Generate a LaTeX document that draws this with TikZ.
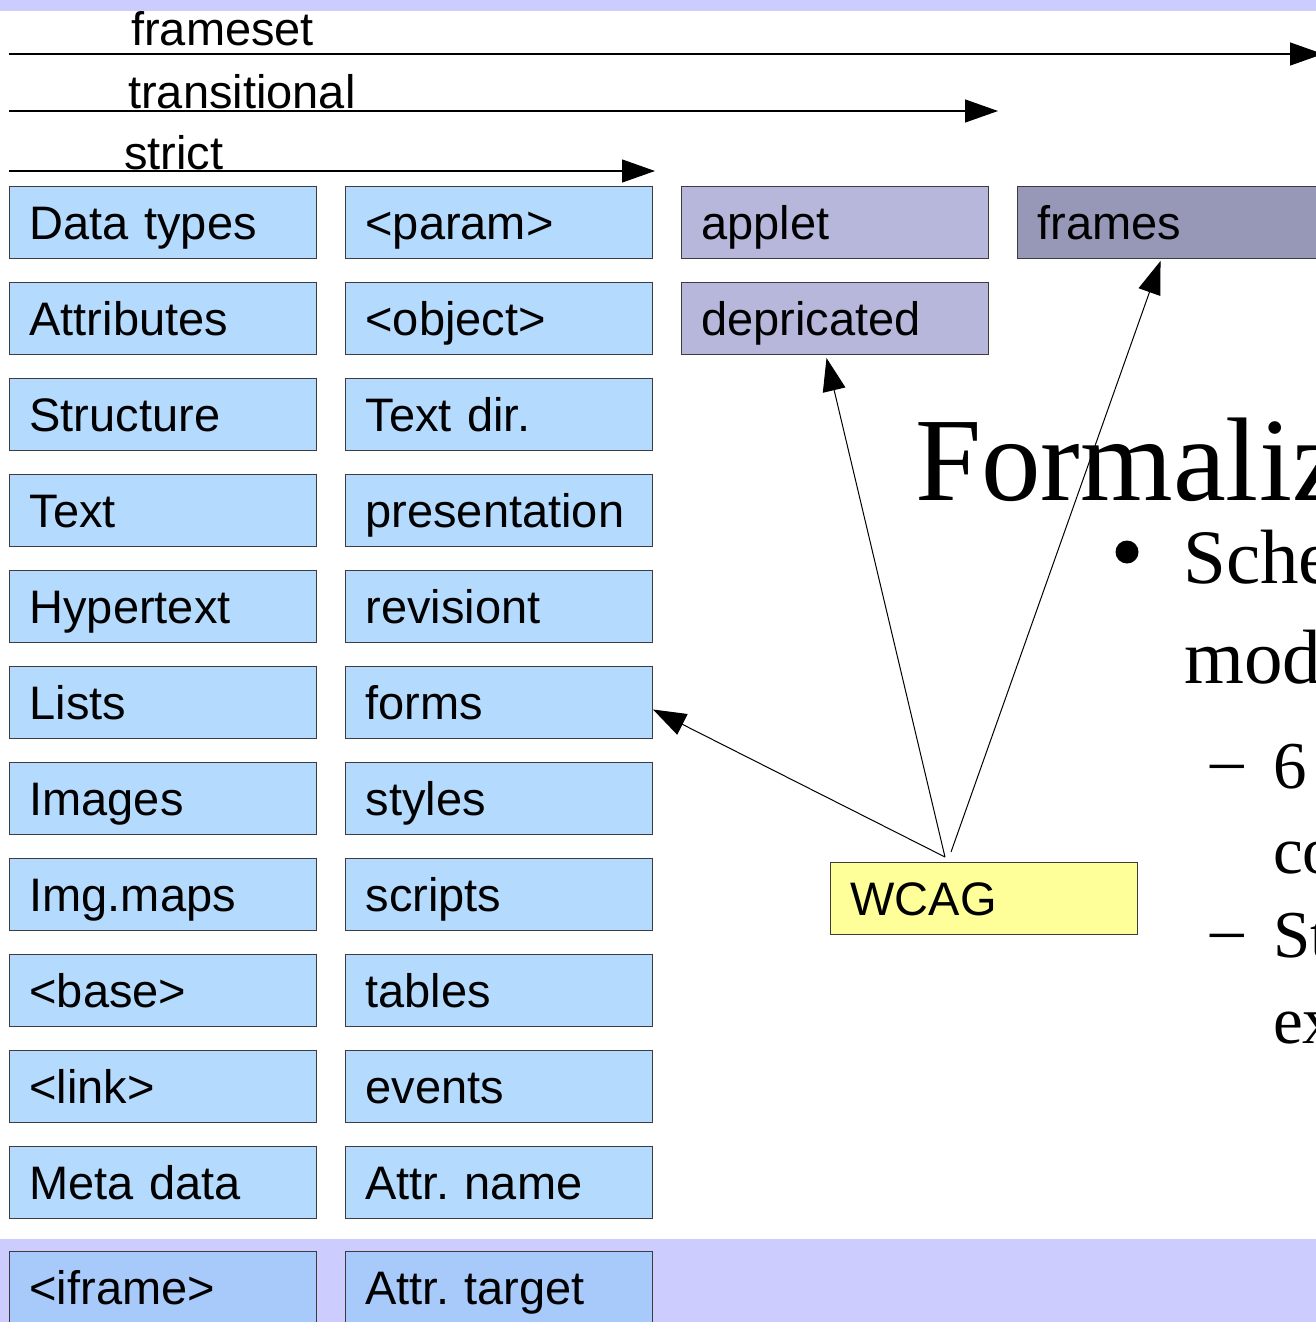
\documentclass[tikz,border=0pt]{standalone}
\usepackage{fontspec}
\newfontfamily\boxfont{Liberation Sans}
\newfontfamily\outlinefont{Liberation Serif}
\usetikzlibrary{arrows.meta,calc}

\definecolor{band}{HTML}{CCCCFF}
\definecolor{cellblue}{HTML}{B4DAFE}
\definecolor{cellband}{HTML}{A8CAFA}
\definecolor{oldcell}{HTML}{B7B7DB}
\definecolor{framecell}{HTML}{9797B7}
\definecolor{notecell}{HTML}{FFFF99}
\definecolor{cellline}{HTML}{3C3C3C}

\begin{document}
\frenchspacing
\begin{tikzpicture}[x=1pt,y=-1pt,
  cell/.style={draw=cellline, line width=1pt, fill=cellblue, anchor=north west,
    minimum width=307pt, minimum height=72pt, inner xsep=20pt, inner ysep=0pt,
    text width=267pt, align=left, text height=34pt, text depth=0pt,
    font=\boxfont\fontsize{47}{50}\selectfont},
  oldstyle/.style={cell, fill=oldcell},
  framestyle/.style={cell, fill=framecell},
  bandcell/.style={cell, fill=cellband},
  note/.style={cell, fill=notecell},
  lab/.style={anchor=base west, inner sep=0pt, font=\boxfont\fontsize{47}{50}\selectfont},
  level/.style={line width=1.3pt, -{Triangle[length=33pt,width=23pt]}},
  link/.style={line width=1pt, -{Triangle[length=33pt,width=23pt]}},
  title/.style={anchor=base west, inner sep=0pt, font=\outlinefont\fontsize{119}{124}\selectfont},
  bodytext/.style={anchor=base west, inner sep=0pt, font=\outlinefont\fontsize{77}{82}\selectfont},
  subtext/.style={anchor=base west, inner sep=0pt, font=\outlinefont\fontsize{67}{72}\selectfont}]

\useasboundingbox (0,0) rectangle (1316,1322);
\begin{scope}
\clip (0,0) rectangle (1316,1322);

% background bands
\fill[band] (0,0) rectangle (1316,11);
\fill[band] (0,1239) rectangle (1316,1322);

% version levels
\coordinate (fs0) at (9,54);   \coordinate (fs1) at (1323,54);
\coordinate (tr0) at (9,111);  \coordinate (tr1) at (998,111);
\coordinate (st0) at (9,171);  \coordinate (st1) at (655,171);
\draw[level] (fs0) -- (fs1);
\draw[level] (tr0) -- (tr1);
\draw[level] (st0) -- (st1);
\node[lab] (lfs) at (131,46) {frameset};
\node[lab] (ltr) at (128,108) {transitional};
\node[lab] (lst) at (124,169) {strict};

% module columns
\foreach \t/\n [count=\i from 0] in {Data types/datatypes, Attributes/attributes,
    Structure/structure, Text/text, Hypertext/hypertext, Lists/lists, Images/images,
    Img.maps/imgmaps, <base>/base, <link>/link, Meta data/metadata}
  \node[cell] (\n) at (9,{186+96*\i}) {\t};
\foreach \t/\n [count=\i from 0] in {<param>/param, <object>/object,
    Text dir./textdir, presentation/presentation, revisiont/revisiont, forms/forms,
    styles/styles, scripts/scripts, tables/tables, events/events, Attr. name/attrname}
  \node[cell] (\n) at (345,{186+96*\i}) {\t};
\node[bandcell] (iframe) at (9,1251) {<iframe>};
\node[bandcell] (attrtarget) at (345,1251) {Attr. target};

\node[oldstyle] (applet) at (681,186) {applet};
\node[oldstyle] (depricated) at (681,282) {depricated};
\node[framestyle] (frames) at (1017,186) {frames};

\node[note] (wcag) at (830,862) {WCAG};

% outline text
\node[title] (formal) at (915,500) {Formaliz};
\fill (1127,552) circle (11.5pt);
\node[bodytext] (sche) at (1183,583) {Sche};
\node[bodytext] (mod) at (1184,683) {mod};
\node[subtext] (d1) at (1210,782) {–};
\node[subtext] (six) at (1273,788) {6};
\node[subtext] (co) at (1273,873) {co};
\node[subtext] (d2) at (1210,951) {–};
\node[subtext] (st) at (1273,957) {St};
\node[subtext] (ex) at (1273,1043) {ex};

% WCAG links
\coordinate (wa) at (945,857);
\coordinate (wb) at (951,852);
\draw[link] (wa) -- ([yshift=-7pt]forms.east);
\draw[link] (wa) -- ([xshift=-8.5pt,yshift=-3pt]depricated.south);
\draw[link] (wb) -- ([xshift=-10.5pt,yshift=-2pt]frames.south);
\end{scope}
\end{tikzpicture}
\end{document}
